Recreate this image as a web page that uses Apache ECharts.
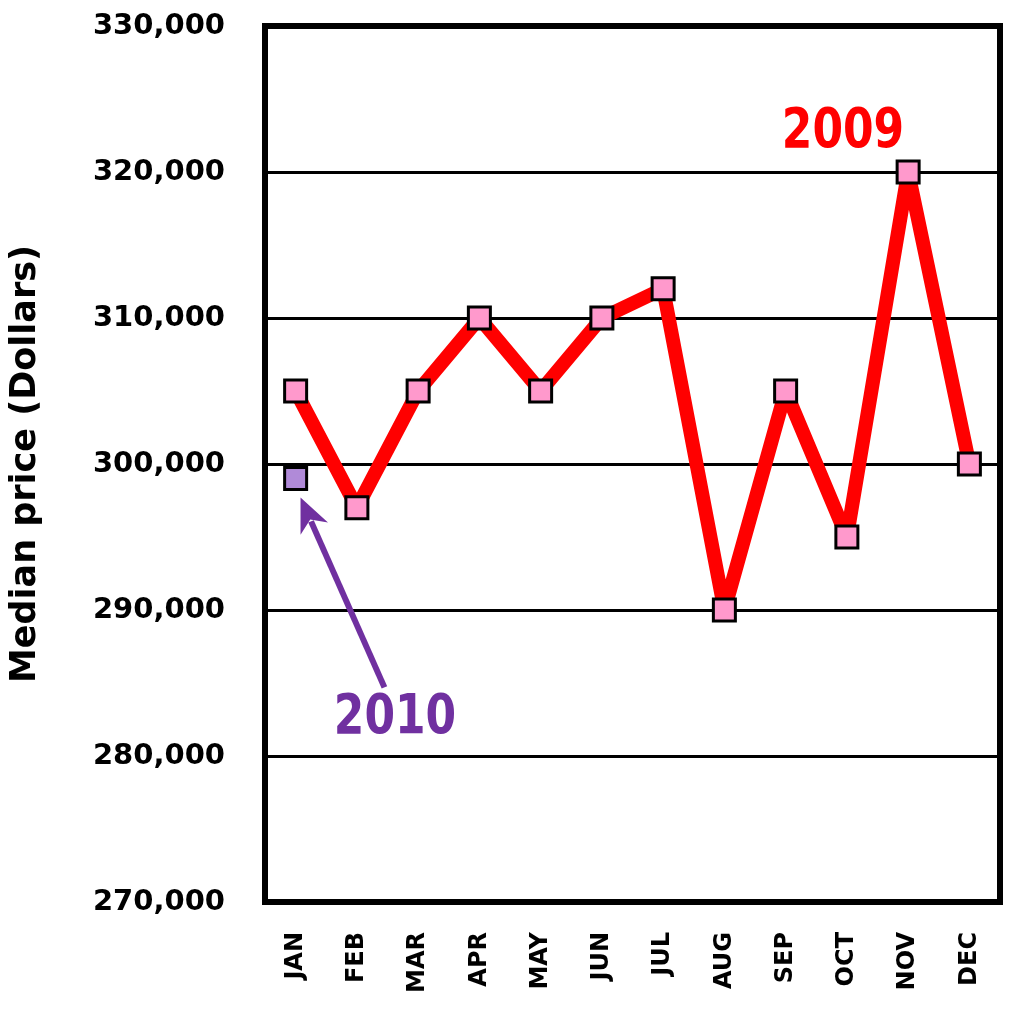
<!DOCTYPE html>
<html><head><meta charset="utf-8">
<script src="https://cdn.jsdelivr.net/npm/echarts@6/dist/echarts.min.js"></script>
<style>html,body{margin:0;padding:0;background:#fff}#c{width:1009px;height:1021px}</style>
</head><body><div id="c"></div>
<script>
const months = ['JAN','FEB','MAR','APR','MAY','JUN','JUL','AUG','SEP','OCT','NOV','DEC'];
const prices2009 = [305000,297000,305000,310000,305000,310000,312000,290000,305000,295000,320000,300000];
const prices2010 = [299000,null,null,null,null,null,null,null,null,null,null,null];
const yTicks = [270000,280000,290000,300000,310000,320000,330000];
const arrowTip = [0.08, 297700];
const arrowTail = [1.45, 284700];

const chart = echarts.init(document.getElementById('c'));
const font = 'DejaVu Sans';
chart.setOption({
  animation:false,
  grid:{left:262,top:26,width:738,height:876,show:true,borderColor:'#000',borderWidth:6,backgroundColor:'#fff'},
  xAxis:{type:'category',data:months,boundaryGap:true,
    axisLine:{show:false},axisTick:{show:false},
    axisLabel:{rotate:90,margin:30,fontFamily:font,fontWeight:'bold',fontSize:24,color:'#000'}},
  yAxis:{type:'value',min:yTicks[0],max:yTicks[yTicks.length-1],interval:10000,
    name:'Median price (Dollars)',nameLocation:'middle',nameGap:222,nameRotate:90,
    nameTextStyle:{fontFamily:font,fontWeight:'bold',fontSize:35,color:'#000'},
    axisLine:{show:false},axisTick:{show:false},
    splitLine:{show:true,lineStyle:{color:'#000',width:3}},
    axisLabel:{margin:40,fontFamily:font,fontWeight:'bold',fontSize:29,color:'#000',
      formatter:v=>v.toLocaleString('en-US')}},
  series:[
    {name:'2009',type:'line',data:prices2009,symbol:'rect',symbolSize:22,
     lineStyle:{color:'#ff0000',width:14},
     itemStyle:{color:'#ff99cc',borderColor:'#000',borderWidth:3},z:3},
    {name:'2010',type:'line',data:prices2010,symbol:'rect',symbolSize:22,
     itemStyle:{color:'#b08ad8',borderColor:'#000',borderWidth:3},z:4}
  ]
});
function toPx(pt){
  const a = chart.convertToPixel({gridIndex:0},[0,pt[1]]);
  const b = chart.convertToPixel({gridIndex:0},[1,pt[1]]);
  return [a[0]+(b[0]-a[0])*pt[0], a[1]];
}
const tip = toPx(arrowTip);
const tail = toPx(arrowTail);
const ang = Math.atan2(tip[1]-tail[1], tip[0]-tail[0]);
const hl = 34, hw = 15;
const c = Math.cos(ang), s = Math.sin(ang);
const bx = tip[0]-hl*c, by = tip[1]-hl*s;
const px = -s, py = c;
chart.setOption({graphic:[
  {type:'line',shape:{x1:tail[0],y1:tail[1],x2:bx+8*c,y2:by+8*s},style:{stroke:'#7030a0',lineWidth:6},z:10},
  {type:'polygon',shape:{points:[[tip[0],tip[1]],[bx+hw*px,by+hw*py],[bx+10*c,by+10*s],[bx-hw*px,by-hw*py]]},style:{fill:'#7030a0'},z:10},
  {type:'text',x:843,y:133,scaleY:1.25,style:{text:'2009',fill:'#ff0000',font:'bold 44px DejaVu Sans',align:'center',verticalAlign:'middle'},z:10},
  {type:'text',x:395,y:719,scaleY:1.25,style:{text:'2010',fill:'#7030a0',font:'bold 44px DejaVu Sans',align:'center',verticalAlign:'middle'},z:10}
]});
</script></body></html>
